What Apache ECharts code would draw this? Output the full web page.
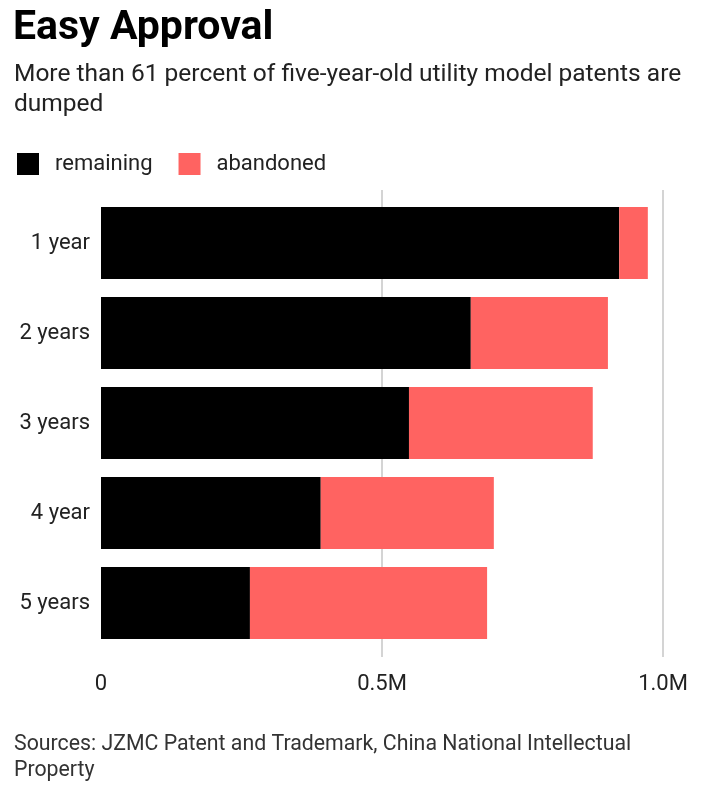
<!DOCTYPE html>
<html>
<head>
<meta charset="utf-8">
<script src="https://cdn.jsdelivr.net/npm/echarts@6/dist/echarts.min.js"></script>
<style>
  html, body { margin: 0; padding: 0; background: #fff; }
  #main { width: 720px; height: 788px; }
</style>
</head>
<body>
<div id="main"></div>
<script>
const categories = ['1 year', '2 years', '3 years', '4 year', '5 years'];
const remaining = [0.922, 0.658, 0.548, 0.391, 0.265];
const abandoned = [0.051, 0.244, 0.327, 0.308, 0.422];
const tickLabels = { 0: '0', 0.5: '0.5M', 1: '1.0M' };

const chart = echarts.init(document.getElementById('main'));
const font = 'Roboto, "Noto Sans", sans-serif';

var option = {
  backgroundColor: '#ffffff',
  color: ['#000000', '#ff6361'],
  textStyle: { fontFamily: font },
  title: [{
    text: 'Easy Approval',
    left: 8,
    top: 2,
    textStyle: { fontSize: 41, fontWeight: 'bold', color: '#000', lineHeight: 44, fontFamily: font }
  }, {
    text: 'More than 61 percent of five-year-old utility model patents are\ndumped',
    left: 9,
    top: 55,
    textStyle: { fontSize: 24.5, fontWeight: 'normal', color: '#222', lineHeight: 30, fontFamily: font }
  }, {
    text: 'Sources: JZMC Patent and Trademark, China National Intellectual\nProperty',
    left: 9,
    top: 727,
    textStyle: { fontSize: 21.3, fontWeight: 'normal', color: '#333', lineHeight: 26, fontFamily: font }
  }],
  legend: {
    left: 12,
    top: 148,
    icon: 'rect',
    itemWidth: 22,
    itemHeight: 22,
    itemGap: 26,
    textStyle: { fontSize: 22, color: '#222', padding: [0, 0, 0, 11] },
    data: ['remaining', 'abandoned']
  },
  grid: [
    { left: 101, right: 57, top: 190, bottom: 131 },
    { left: 101, right: 57, top: 198, bottom: 140 }
  ],
  xAxis: [{
    gridIndex: 0,
    type: 'value',
    min: 0,
    max: 1,
    interval: 0.5,
    axisLine: { show: false },
    axisTick: { show: false },
    splitLine: { show: true, showMinLine: false, lineStyle: { color: '#d4d4d4', width: 2 } },
    axisLabel: {
      fontSize: 22,
      color: '#222',
      margin: 16,
      formatter: v => tickLabels[v]
    }
  }, {
    gridIndex: 1,
    type: 'value',
    min: 0,
    max: 1,
    interval: 0.5,
    show: false,
    splitLine: { show: false }
  }],
  yAxis: [{
    gridIndex: 0,
    type: 'category',
    data: categories,
    show: false
  }, {
    gridIndex: 1,
    type: 'category',
    data: categories,
    inverse: true,
    axisLine: { show: false },
    axisTick: { show: false },
    axisLabel: { fontSize: 22, color: '#222', margin: 11 }
  }],
  series: [{
    name: 'remaining',
    type: 'bar',
    stack: 'total',
    xAxisIndex: 1,
    yAxisIndex: 1,
    barCategoryGap: '20%',
    data: remaining
  }, {
    name: 'abandoned',
    type: 'bar',
    stack: 'total',
    xAxisIndex: 1,
    yAxisIndex: 1,
    barCategoryGap: '20%',
    data: abandoned
  }]
};

chart.setOption(option, true);
</script>
</body>
</html>
